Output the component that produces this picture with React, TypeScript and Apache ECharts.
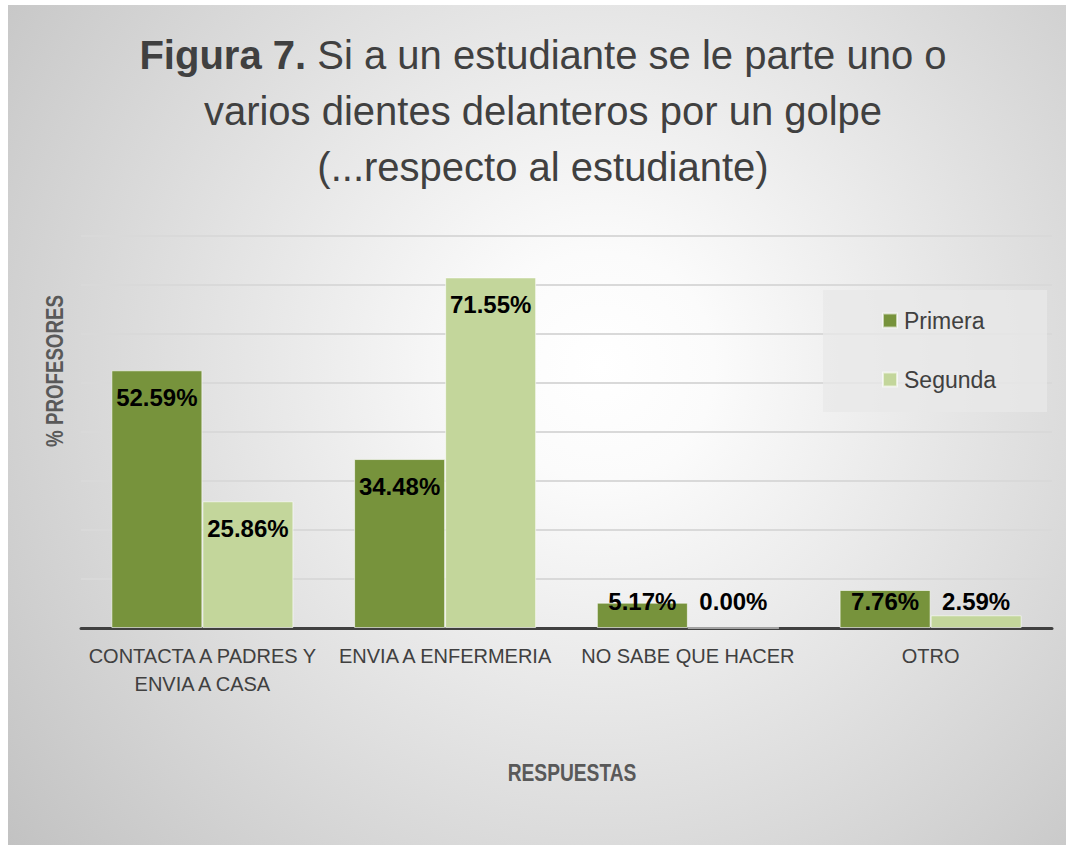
import React, { useEffect, useRef } from "react";
import * as echarts from "echarts";

const categories = ["CONTACTA A PADRES Y\nENVIA A CASA", "ENVIA A ENFERMERIA", "NO SABE QUE HACER", "OTRO"];
const primera = [52.59, 34.48, 5.17, 7.76];
const segunda = [25.86, 71.55, 0.0, 2.59];
const seriesNames = ["Primera", "Segunda"];
const yMax = 80;
const yInterval = 10;

const FONT = "'Liberation Sans', Arial, sans-serif";

function mkData(vals: number[]) {
  return vals.map((v) => ({
    value: v,
    label:
      v < 10
        ? { position: "insideBottom", distance: 15 }
        : { position: "insideTop", distance: 15 },
  }));
}

export default function App() {
  const ref = useRef<HTMLDivElement>(null);
  useEffect(() => {
    if (!ref.current) return;
    const chart = echarts.init(ref.current, null, { renderer: "svg" });
    const labelCommon = {
      show: true,
      formatter: (p: any) => Number(p.value).toFixed(2) + "%",
      color: "#000",
      fontFamily: FONT,
      fontWeight: "bold",
      fontSize: 24,
    };
    chart.setOption({
      animation: false,
      backgroundColor: "transparent",
      title: {
        text: "{b|Figura 7.} Si a un estudiante se le parte uno o\nvarios dientes delanteros por un golpe\n(...respecto al estudiante)",
        left: 535,
        top: 22,
        textAlign: "center",
        padding: 0,
        textStyle: {
          fontFamily: FONT,
          fontSize: 40,
          color: "#404040",
          fontWeight: "normal",
          lineHeight: 56,
          rich: {
            b: { fontFamily: FONT, fontSize: 40, fontWeight: "bold", color: "#404040", lineHeight: 56 },
          },
        },
      },
      legend: {
        data: seriesNames,
        orient: "vertical",
        left: 874,
        top: 304,
        padding: 0,
        itemGap: 36,
        itemWidth: 14,
        itemHeight: 14,
        icon: "rect",
        textStyle: { fontFamily: FONT, fontSize: 23, color: "#404040", padding: [0, 0, 0, 2] },
        z: 10,
      },
      graphic: [
        {
          type: "rect",
          left: 815,
          top: 285,
          shape: { width: 224, height: 122 },
          style: { fill: "rgba(232,232,232,0.75)" },
          z: 1,
        },
        {
          type: "text",
          x: 47,
          y: 366,
          rotation: Math.PI / 2,
          scaleX: 0.78,
          style: {
            text: "% PROFESORES",
            fontFamily: FONT,
            fontSize: 24,
            fontWeight: "bold",
            fill: "#595959",
            align: "center",
            verticalAlign: "middle",
          },
        },
        {
          type: "text",
          x: 564,
          y: 768,
          scaleX: 0.8,
          style: {
            text: "RESPUESTAS",
            fontFamily: FONT,
            fontSize: 24,
            fontWeight: "bold",
            fill: "#595959",
            align: "center",
            verticalAlign: "middle",
          },
        },
      ],
      grid: { left: 73, right: 14, top: 231, bottom: 217, containLabel: false },
      xAxis: {
        type: "category",
        data: categories,
        axisLine: { show: true, lineStyle: { color: "#404040", width: 3 } },
        axisTick: { show: false },
        axisLabel: {
          fontFamily: FONT,
          fontSize: 20,
          color: "#404040",
          margin: 14,
          lineHeight: 28,
          interval: 0,
        },
      },
      yAxis: {
        type: "value",
        min: 0,
        max: yMax,
        interval: yInterval,
        axisLine: { show: false },
        axisTick: { show: false },
        axisLabel: { show: false },
        splitLine: { show: true, lineStyle: { color: "#d9d9d9", width: 2 } },
      },
      series: [
        {
          name: seriesNames[0],
          type: "bar",
          data: mkData(primera),
          barGap: "0%",
          barCategoryGap: "25%",
          itemStyle: { color: "#77933c", borderColor: "rgba(255,255,255,0.6)", borderWidth: 1 },
          label: labelCommon,
        },
        {
          name: seriesNames[1],
          type: "bar",
          data: mkData(segunda),
          barGap: "0%",
          barCategoryGap: "25%",
          itemStyle: { color: "#c3d69b", borderColor: "rgba(255,255,255,0.6)", borderWidth: 1 },
          label: labelCommon,
        },
      ],
    });
    return () => chart.dispose();
  }, []);
  return (
    <div style={{ position: "absolute", left: 0, top: 0, width: 1066, height: 845, background: "#fff", overflow: "hidden" }}>
      <div
        style={{
          position: "absolute",
          left: 8,
          top: 5,
          width: 1058,
          height: 840,
          background: "radial-gradient(circle farthest-corner at 56% 43%, #ffffff 0%, #fbfbfb 15%, #c2c2c2 100%)",
        }}
      >
        <div ref={ref} style={{ width: 1058, height: 840 }} />
      </div>
    </div>
  );
}
